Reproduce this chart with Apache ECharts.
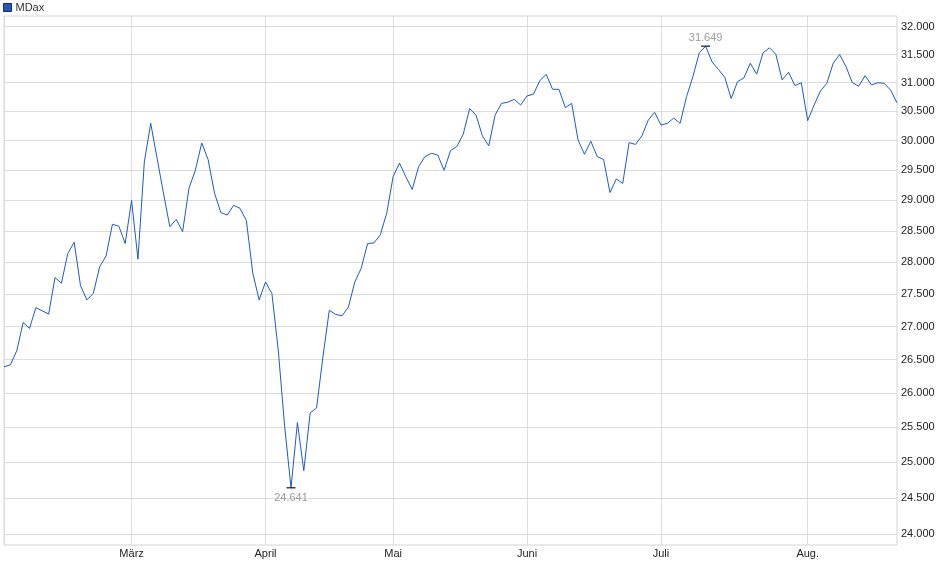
<!DOCTYPE html>
<html>
<head>
<meta charset="utf-8">
<script src="https://cdn.jsdelivr.net/npm/echarts@6/dist/echarts.min.js"></script>
<style>
html,body{margin:0;padding:0;background:#fff;}
#chart{width:940px;height:579px;}
</style>
</head>
<body>
<div id="chart"></div>
<script>
const seriesName = 'MDax';
const dates = [
'03.02.','04.02.','05.02.','06.02.','07.02.','10.02.','11.02.','12.02.','13.02.','14.02.','17.02.','18.02.','19.02.','20.02.','21.02.','24.02.','25.02.','26.02.','27.02.','28.02.',
'03.03.','04.03.','05.03.','06.03.','07.03.','10.03.','11.03.','12.03.','13.03.','14.03.','17.03.','18.03.','19.03.','20.03.','21.03.','24.03.','25.03.','26.03.','27.03.','28.03.','31.03.',
'01.04.','02.04.','03.04.','04.04.','07.04.','08.04.','09.04.','10.04.','11.04.','14.04.','15.04.','16.04.','17.04.','22.04.','23.04.','24.04.','25.04.','28.04.','29.04.','30.04.',
'02.05.','05.05.','06.05.','07.05.','08.05.','09.05.','12.05.','13.05.','14.05.','15.05.','16.05.','19.05.','20.05.','21.05.','22.05.','23.05.','26.05.','27.05.','28.05.','29.05.','30.05.',
'02.06.','03.06.','04.06.','05.06.','06.06.','09.06.','10.06.','11.06.','12.06.','13.06.','16.06.','17.06.','18.06.','19.06.','20.06.','23.06.','24.06.','25.06.','26.06.','27.06.','30.06.',
'01.07.','02.07.','03.07.','04.07.','07.07.','08.07.','09.07.','10.07.','11.07.','14.07.','15.07.','16.07.','17.07.','18.07.','21.07.','22.07.','23.07.','24.07.','25.07.','28.07.','29.07.','30.07.','31.07.',
'01.08.','04.08.','05.08.','06.08.','07.08.','08.08.','11.08.','12.08.','13.08.','14.08.','15.08.','18.08.','19.08.','20.08.','21.08.'
];
const values = [
26390,26420,26630,27060,26970,27290,27240,27190,27760,27670,28140,28320,27630,27410,27510,27930,28100,28610,28580,28300,
29000,28050,29640,30295,29700,29120,28570,28690,28490,29200,29500,29960,29680,29120,28800,28760,28920,28870,28670,27830,27410,
27690,27510,26640,25510,24641,25570,24880,25710,25780,26540,27250,27185,27165,27300,27690,27905,28300,28310,28440,28790,
29390,29620,29390,29180,29560,29730,29785,29755,29500,29830,29900,30110,30550,30440,30080,29910,30440,30640,30660,30710,30610,
30770,30800,31035,31150,30885,30885,30565,30640,30010,29770,29990,29730,29680,29130,29355,29280,29965,29935,30080,30350,30485,
30265,30295,30385,30295,30755,31105,31530,31649,31370,31235,31095,30725,31020,31085,31345,31150,31530,31620,31505,31050,31185,30950,31000,
30340,30610,30855,30990,31345,31500,31285,31000,30940,31125,30960,31000,30990,30870,30650
];
const monthNames = {'02':'Feb.','03':'März','04':'April','05':'Mai','06':'Juni','07':'Juli','08':'Aug.'};
const yTicks = [24000,24500,25000,25500,26000,26500,27000,27500,28000,28500,29000,29500,30000,30500,31000,31500,32000];

function isMonthStart(i){
  return i === 0 || dates[i].slice(3,5) !== dates[i-1].slice(3,5);
}
function fmt(v){ return (v/1000).toFixed(3); }

const chart = echarts.init(document.getElementById('chart'), null, {renderer:'canvas'});
chart.setOption({
  animation: false,
  backgroundColor: '#fff',
  textStyle: {fontFamily: 'Liberation Sans, Arial, sans-serif'},
  legend: {
    left: 3, top: 2, padding: 0,
    icon: 'rect', itemWidth: 8, itemHeight: 8, itemGap: 10,
    textStyle: {fontSize: 11, color: '#333', padding:[0,0,0,-1]},
    itemStyle: {borderColor: '#1b2a5a', borderWidth: 1},
    data: [seriesName]
  },
  grid: {
    left: 4, right: 43, top: 16, bottom: 34,
    show: true, borderColor: '#d4d4d4', borderWidth: 1
  },
  xAxis: {
    type: 'category',
    data: dates,
    boundaryGap: false,
    axisLine: {show: false},
    axisTick: {show: false},
    axisLabel: {
      interval: (i) => i > 0 && isMonthStart(i),
      formatter: (val) => monthNames[val.slice(3,5)],
      fontSize: 11, color: '#222', margin: 3
    },
    splitLine: {
      show: true,
      interval: (i) => isMonthStart(i),
      lineStyle: {color: '#dcdcdc', width: 1}
    }
  },
  yAxis: {
    type: 'log',
    logBase: 10,
    position: 'right',
    min: 23855, max: 32195,
    axisLine: {show: false},
    axisTick: {show: false, customValues: yTicks},
    axisLabel: {
      customValues: yTicks,
      formatter: fmt,
      fontSize: 11, color: '#222', margin: 4
    },
    splitLine: {show: true, lineStyle: {color: '#dcdcdc', width: 1}}
  },
  series: [{
    name: seriesName,
    type: 'line',
    data: values,
    showSymbol: false,
    symbol: 'none',
    color: '#1c5bc6',
    lineStyle: {width: 1, color: '#1c5bc6'},
    itemStyle: {color: '#1c5bc6'},
    markPoint: {
      symbol: 'rect',
      symbolSize: [9, 1.2],
      itemStyle: {color: '#111'},
      label: {
        show: true, fontSize: 11, color: '#9a9a9a',
        formatter: (p) => fmt(p.value)
      },
      data: [
        {type: 'min', label: {position: 'bottom', distance: 4}},
        {type: 'max', label: {position: 'top', distance: 2}}
      ]
    }
  }]
});
</script>
</body>
</html>
